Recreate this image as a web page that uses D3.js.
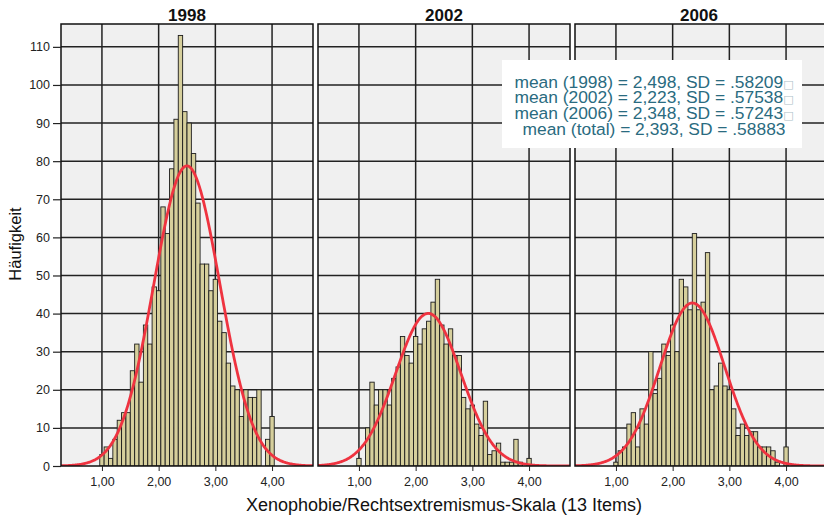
<!DOCTYPE html>
<html>
<head>
<meta charset="utf-8">
<script src="https://cdn.jsdelivr.net/npm/d3@7"></script>
<style>
  body { margin: 0; background: #fff; }
  svg { display: block; }
  text { font-family: "Liberation Sans", Arial, sans-serif; }
</style>
</head>
<body>
<svg id="chart" width="824" height="515"></svg>
<script>
// Survey waves shown side by side
const years = ["1998", "2002", "2006"];

// Frequencies per scale value (mean of 13 items, steps of 1/13 from 1,00 to 4,00)
const counts1998 = [3, 5, 2, 7, 12, 14, 14, 25, 32, 22, 37, 32, 47, 46, 68, 61, 78, 91, 113, 93,
                    90, 82, 69, 53, 53, 46, 49, 38, 35, 27, 21, 20, 13, 20, 18, 18, 20, 0, 7, 13];
const counts2002 = [2, 0, 10, 22, 16, 20, 20, 16, 23, 26, 34, 29, 27, 34, 32, 36, 38, 43, 49, 37,
                    32, 36, 29, 29, 18, 15, 16, 11, 8, 17, 3, 4, 6, 1, 1, 1, 7, 1, 0, 2];
const counts2006 = [1, 4, 5, 11, 14, 5, 15, 11, 30, 19, 23, 32, 29, 37, 30, 49, 47, 41, 61, 41,
                    43, 56, 20, 21, 27, 21, 20, 15, 8, 11, 8, 9, 9, 5, 5, 5, 4, 1, 0, 5];

// Descriptive statistics per wave
const means = [2.498, 2.223, 2.348];
const sds = [0.58209, 0.57538, 0.57243];

// Legend lines
const legendLines = [
  "mean (1998) = 2,498, SD = .58209",
  "mean (2002) = 2,223, SD = .57538",
  "mean (2006) = 2,348, SD = .57243",
  "mean (total) = 2,393, SD = .58883"
];
const legendMarks = [true, true, true, false];

// Axis ticks
const yTicks = [0, 10, 20, 30, 40, 50, 60, 70, 80, 90, 100, 110];
const xTicks = [1, 2, 3, 4];

const allCounts = [counts1998, counts2002, counts2006];
const binWidth = 1 / 13;

const svg = d3.select("#chart");

const panelW = 252;
const panelLefts = [61, 318, 575];
const plotTop = 24, plotBottom = 466;

const y = d3.scaleLinear().domain([0, 116]).range([plotBottom, plotTop]);

const fmtX = d => d3.format(".2f")(d).replace(".", ",");

const defs = svg.append("defs");

years.forEach((yr, i) => {
  const x0 = panelLefts[i];
  const x = d3.scaleLinear().domain([0.278, 4.722]).range([x0, x0 + panelW]);
  const counts = allCounts[i];
  const bins = counts.map((c, k) => ({ value: 1 + k * binWidth, count: c }));

  defs.append("clipPath").attr("id", "clip" + i)
    .append("rect").attr("x", x0).attr("y", plotTop).attr("width", panelW).attr("height", plotBottom - plotTop);

  const g = svg.append("g");
  const inner = g.append("g").attr("clip-path", `url(#clip${i})`);

  // panel background
  inner.append("rect")
    .attr("x", x0).attr("y", plotTop).attr("width", panelW).attr("height", plotBottom - plotTop)
    .attr("fill", "#f0f0f0");

  // grid
  inner.append("g").selectAll("line").data(yTicks.filter(t => t > 0)).join("line")
    .attr("x1", x0).attr("x2", x0 + panelW)
    .attr("y1", d => y(d)).attr("y2", d => y(d))
    .attr("stroke", "#222").attr("stroke-width", 1.5);
  inner.append("g").selectAll("line").data(xTicks).join("line")
    .attr("x1", d => x(d)).attr("x2", d => x(d))
    .attr("y1", plotTop).attr("y2", plotBottom)
    .attr("stroke", "#222").attr("stroke-width", 1.5);

  // histogram bars
  inner.append("g").selectAll("rect").data(bins.filter(b => b.count > 0)).join("rect")
    .attr("x", d => x(d.value - binWidth / 2))
    .attr("width", d => x(d.value + binWidth / 2) - x(d.value - binWidth / 2))
    .attr("y", d => y(d.count))
    .attr("height", d => y(0) - y(d.count))
    .attr("fill", "#d6cf9c")
    .attr("stroke", "#1c1c1c")
    .attr("stroke-width", 0.9);

  // fitted normal curve, scaled to the number of cases
  const n = d3.sum(counts);
  const pdf = v => Math.exp(-0.5 * ((v - means[i]) / sds[i]) ** 2) / (sds[i] * Math.sqrt(2 * Math.PI));
  const xs = d3.range(0.2, 4.8, 0.01);
  const line = d3.line().x(v => x(v)).y(v => y(n * binWidth * pdf(v))).curve(d3.curveBasis);
  inner.append("path").datum(xs)
    .attr("d", line)
    .attr("fill", "none")
    .attr("stroke", "#ef3340")
    .attr("stroke-width", 2.8);

  // panel frame
  g.append("rect")
    .attr("x", x0).attr("y", plotTop).attr("width", panelW).attr("height", plotBottom - plotTop)
    .attr("fill", "none").attr("stroke", "#111").attr("stroke-width", 1.5);

  // title
  g.append("text")
    .attr("x", x0 + panelW / 2 + (i === 2 ? -2 : 0)).attr("y", 21)
    .attr("text-anchor", "middle")
    .attr("font-size", 17).attr("font-weight", "bold")
    .attr("fill", "#111")
    .text(yr);

  // x axis
  const xa = g.append("g").attr("transform", `translate(0,${plotBottom})`)
    .call(d3.axisBottom(x).tickValues(xTicks).tickFormat(fmtX).tickSize(5).tickPadding(6));
  xa.select(".domain").remove();
  xa.selectAll("line").attr("stroke", "#222");
  xa.selectAll("text").attr("font-size", 12.5).attr("fill", "#222")
    .style("font-family", '"Liberation Sans", Arial, sans-serif');
});

// y axis on the first panel
const ya = svg.append("g").attr("transform", `translate(${panelLefts[0]},0)`)
  .call(d3.axisLeft(y).tickValues(yTicks).tickSize(8).tickPadding(3));
ya.select(".domain").remove();
ya.selectAll("line").attr("stroke", "#222").attr("stroke-width", 1.2);
ya.selectAll("text").attr("font-size", 12.5).attr("fill", "#222")
  .style("font-family", '"Liberation Sans", Arial, sans-serif');

// axis titles
svg.append("text")
  .attr("transform", `translate(21,244) rotate(-90)`)
  .attr("text-anchor", "middle")
  .attr("font-size", 16.5).attr("fill", "#111")
  .text("Häufigkeit");

svg.append("text")
  .attr("x", 444).attr("y", 511)
  .attr("text-anchor", "middle")
  .attr("font-size", 18).attr("fill", "#111")
  .text("Xenophobie/Rechtsextremismus-Skala (13 Items)");

// legend box
const lg = svg.append("g");
lg.append("rect")
  .attr("x", 502).attr("y", 60).attr("width", 300).attr("height", 88)
  .attr("fill", "#fff");
const lt = lg.append("text")
  .attr("text-anchor", "middle")
  .attr("font-size", 17.4)
  .attr("fill", "#2a6b80");
legendLines.forEach((s, k) => {
  const row = lt.append("tspan").attr("x", 654).attr("y", 87.5 + k * 15.8).text(s);
  if (legendMarks[k]) {
    row.append("tspan")
      .attr("fill", "#aebfc8")
      .attr("font-size", 11)
      .style("font-family", '"DejaVu Sans", sans-serif')
      .text("\u25A1");
  }
});
</script>
</body>
</html>
